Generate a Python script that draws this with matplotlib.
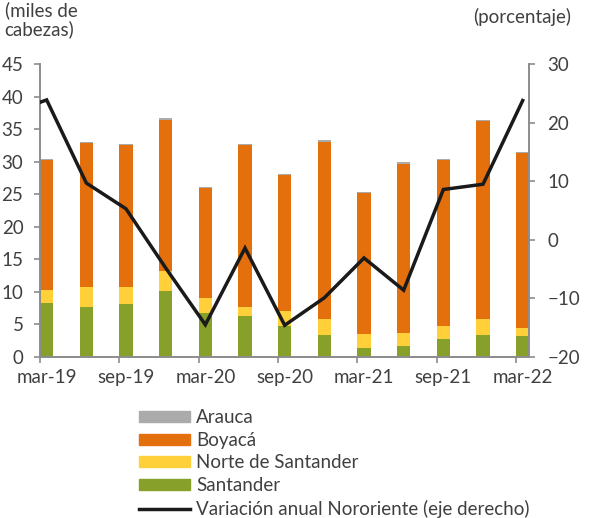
import matplotlib
matplotlib.use('Agg')
import matplotlib.pyplot as plt
import numpy as np
from matplotlib.lines import Line2D
from matplotlib.patches import Patch

# trimestres mar-19 .. mar-22
periodos = ['mar-19', 'jun-19', 'sep-19', 'dic-19', 'mar-20', 'jun-20', 'sep-20',
            'dic-20', 'mar-21', 'jun-21', 'sep-21', 'dic-21', 'mar-22']
etiquetas = ['mar-19', 'sep-19', 'mar-20', 'sep-20', 'mar-21', 'sep-21', 'mar-22']

santander = [8.3, 7.7, 8.1, 10.1, 6.7, 6.3, 4.8, 3.3, 1.4, 1.6, 2.8, 3.3, 3.2]
norte_santander = [2.0, 3.0, 2.6, 3.1, 2.4, 1.4, 2.3, 2.6, 2.1, 2.1, 1.9, 2.5, 1.2]
boyaca = [20.0, 22.2, 21.9, 23.3, 16.9, 24.9, 20.9, 27.2, 21.7, 26.0, 25.5, 30.4, 26.9]
arauca = [0.2, 0.2, 0.2, 0.3, 0.2, 0.2, 0.1, 0.2, 0.2, 0.2, 0.2, 0.2, 0.2]

# variacion anual (%), el primer valor es dic-18 (queda fuera del eje)
variacion_dic18 = 21.5
variacion = [23.9, 9.7, 5.3, -4.8, -14.5, -1.4, -14.6, -9.9, -3.1, -8.6, 8.6, 9.5, 23.8]

c_arauca = '#ABABAB'
c_boyaca = '#E3700C'
c_norte = '#FFD03A'
c_sant = '#86A02A'
c_axis = '#8C8C8C'
c_text = '#404040'

plt.rcParams['font.family'] = ['Lato', 'DejaVu Sans']
fs = 13.5
plt.rcParams['font.size'] = fs

fig = plt.figure(figsize=(5.9, 5.18), dpi=100)
ax = fig.add_axes([0.068, 0.311, 0.829, 0.565])
ax2 = ax.twinx()

x = np.arange(len(periodos))
w = 0.33
s = np.array(santander)
n = np.array(norte_santander)
b = np.array(boyaca)
a = np.array(arauca)
ax.bar(x, s, w, color=c_sant, zorder=2)
ax.bar(x, n, w, bottom=s, color=c_norte, zorder=2)
ax.bar(x, b, w, bottom=s + n, color=c_boyaca, zorder=2)
ax.bar(x, a, w, bottom=s + n + b, color=c_arauca, zorder=2)

xl = np.concatenate([[-1], x])
yl = [variacion_dic18] + variacion
ax2.plot(xl, yl, color='#1A1A1A', lw=2.5, solid_joinstyle='miter', zorder=3)

ax.set_xlim(-w / 2, len(x) - 1 + w / 2)
ax.set_ylim(0, 45)
ax.set_yticks(np.arange(0, 46, 5))
ax2.set_ylim(-20, 30)
ax2.set_yticks(np.arange(-20, 31, 10))

# ticks on category edges, labels on bar centers
ax.set_xticks(np.arange(0, len(x), 2) - w / 2)
ax.set_xticklabels([])
ax.set_xticks(np.arange(0, len(x), 2), minor=True)
ax.set_xticklabels(etiquetas, minor=True)
ax.tick_params(axis='x', which='major', direction='out', length=4, width=1.2, color=c_axis)
ax.tick_params(axis='x', which='minor', length=0, pad=9, labelcolor=c_text)
ax.tick_params(axis='y', direction='out', length=4, width=1.2, color=c_axis,
               pad=8, labelcolor=c_text)
ax2.tick_params(axis='y', direction='out', length=4, width=1.2, color=c_axis,
                pad=9, labelcolor=c_text)

for a_ in (ax, ax2):
    a_.spines['top'].set_visible(False)
    for sp in ('left', 'right', 'bottom'):
        a_.spines[sp].set_color(c_axis)
        a_.spines[sp].set_linewidth(1.2)
ax2.set_zorder(ax.get_zorder() + 1)
ax2.patch.set_visible(False)

fig.text(0.008, 0.997, '(miles de\ncabezas)', ha='left', va='top', color=c_text,
         fontsize=fs, linespacing=1.05)
fig.text(0.968, 0.968, '(porcentaje)', ha='right', va='center', color=c_text, fontsize=fs)

handles = [Patch(color=c_arauca), Patch(color=c_boyaca), Patch(color=c_norte),
           Patch(color=c_sant), Line2D([0], [0], color='#1A1A1A', lw=2.5)]
labels = ['Arauca', 'Boyacá', 'Norte de Santander', 'Santander',
          'Variación anual Nororiente (eje derecho)']
leg = fig.legend(handles, labels, loc='upper left', bbox_to_anchor=(0.236, 0.21),
                 frameon=False, handlelength=2.72, handleheight=0.53,
                 handletextpad=0.32, labelspacing=0.3, borderaxespad=0,
                 borderpad=0, fontsize=fs)
for t in leg.get_texts():
    t.set_color(c_text)

fig.savefig('out.png', dpi=100)
